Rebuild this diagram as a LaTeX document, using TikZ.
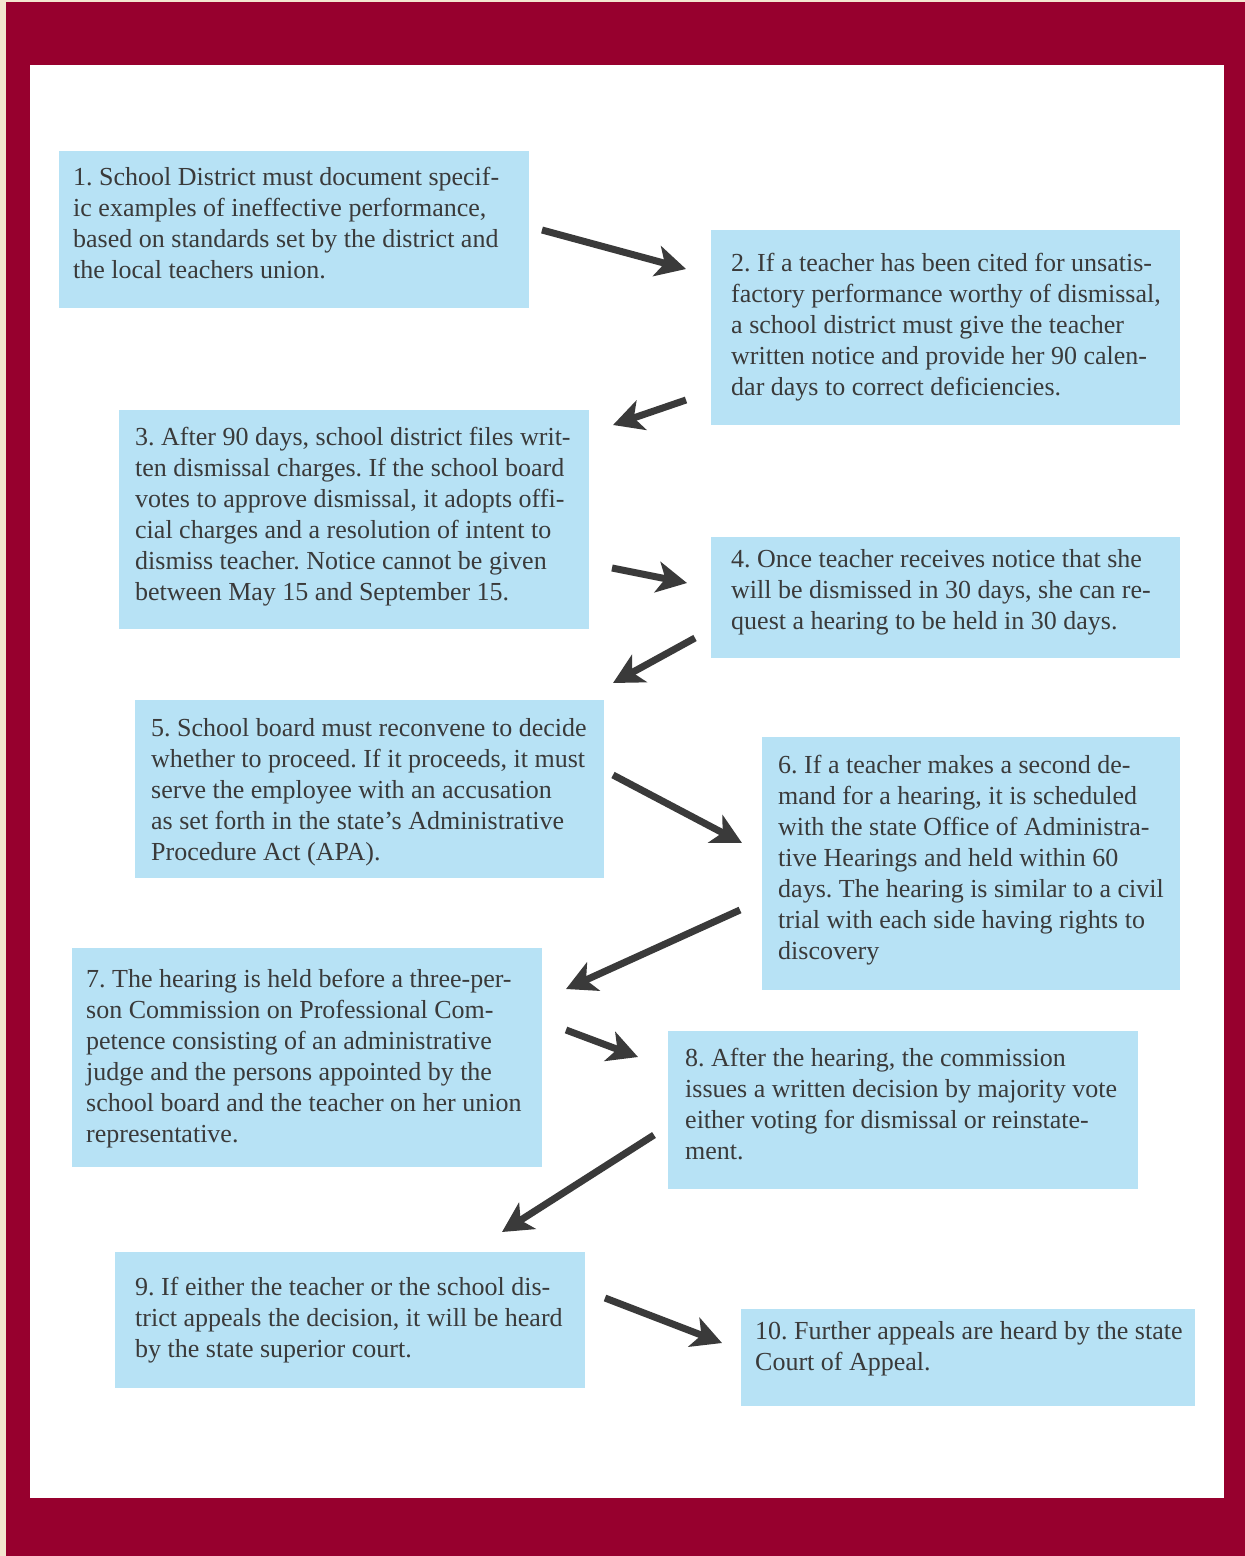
\documentclass[tikz,border=0pt]{standalone}
\usepackage{fontspec}
\setmainfont{Liberation Serif}
\usetikzlibrary{arrows.meta,calc}
\definecolor{maroon}{HTML}{97002E}
\definecolor{cream}{HTML}{F3E6CF}
\definecolor{boxblue}{HTML}{B7E2F5}
\definecolor{txtgrey}{HTML}{3A3A3A}
\definecolor{arrgrey}{HTML}{3A3A3A}
\frenchspacing
\begin{document}
\begin{tikzpicture}[x=1pt,y=-1pt,
  stepbox/.style={fill=boxblue,draw=none},
  steptext/.style={anchor=north west,inner sep=0pt,align=left,text=txtgrey,
    font=\fontsize{26}{31}\selectfont\frenchspacing},
  flow/.style={draw=arrgrey,line width=7pt,-{Stealth[length=30pt,width=31pt,inset=8pt]}}]
\useasboundingbox (0,0) rectangle (1245,1556);
\fill[cream] (0,0) rectangle (1245,1556);
\fill[maroon] (6,2) rectangle (1245,1556);
\fill[white] (30,65) rectangle (1224,1498);

% boxes
\fill[stepbox] (59,151) rectangle (529,308);
\fill[stepbox] (711,230) rectangle (1180,425);
\fill[stepbox] (119,410) rectangle (589,629);
\fill[stepbox] (711,537) rectangle (1180,658);
\fill[stepbox] (135,700) rectangle (604,878);
\fill[stepbox] (762,737) rectangle (1180,990);
\fill[stepbox] (72,948) rectangle (542,1167);
\fill[stepbox] (668,1031) rectangle (1138,1189);
\fill[stepbox] (115,1252) rectangle (585,1388);
\fill[stepbox] (741,1309) rectangle (1195,1406);

% texts (north = baseline - 21.7)
\node[steptext] (t1) at (73,163.3) {\strut 1. School District must document specif-\\ic examples of ineffective performance,\\based on standards set by the district and\\the local teachers union.};
\node[steptext] (t2) at (731,249.3) {\strut 2. If a teacher has been cited for unsatis-\\factory performance worthy of dismissal,\\a school district must give the teacher\\written notice and provide her 90 calen-\\dar days to correct deficiencies.};
\node[steptext] (t3) at (135,423.3) {\strut 3. After 90 days, school district files writ-\\ten dismissal charges. If the school board\\votes to approve dismissal, it adopts offi-\\cial charges and a resolution of intent to\\dismiss teacher. Notice cannot be given\\between May 15 and September 15.};
\node[steptext] (t4) at (731,545.3) {\strut 4. Once teacher receives notice that she\\will be dismissed in 30 days, she can re-\\quest a hearing to be held in 30 days.};
\node[steptext] (t5) at (151,714.3) {\strut 5. School board must reconvene to decide\\whether to proceed. If it proceeds, it must\\serve the employee with an accusation\\as set forth in the state’s Administrative\\Procedure Act (APA).};
\node[steptext] (t6) at (778,751.3) {\strut 6. If a teacher makes a second de-\\mand for a hearing, it is scheduled\\with the state Office of Administra-\\tive Hearings and held within 60\\days. The hearing is similar to a civil\\trial with each side having rights to\\discovery};
\node[steptext] (t7) at (86,965.3) {\strut 7. The hearing is held before a three-per-\\son Commission on Professional Com-\\petence consisting of an administrative\\judge and the persons appointed by the\\school board and the teacher on her union\\representative.};
\node[steptext] (t8) at (685,1044.3) {\strut 8. After the hearing, the commission\\issues a written decision by majority vote\\either voting for dismissal or reinstate-\\ment.};
\node[steptext] (t9) at (135,1273.3) {\strut 9. If either the teacher or the school dis-\\trict appeals the decision, it will be heard\\by the state superior court.};
\node[steptext] (t10) at (755,1317.3) {\strut 10. Further appeals are heard by the state\\Court of Appeal.};

% arrow end points
\coordinate (a1s) at (542,230);  \coordinate (a1e) at (686,269);
\coordinate (a2s) at (686,400);  \coordinate (a2e) at (613,425);
\coordinate (a3s) at (612,568);  \coordinate (a3e) at (687,583);
\coordinate (a4s) at (695,638);  \coordinate (a4e) at (613,683);
\coordinate (a5s) at (613,775);  \coordinate (a5e) at (742,843);
\coordinate (a6s) at (740,910);  \coordinate (a6e) at (566,989);
\coordinate (a7s) at (566,1030); \coordinate (a7e) at (638,1057);
\coordinate (a8s) at (654,1135); \coordinate (a8e) at (502,1232);
\coordinate (a9s) at (605,1298); \coordinate (a9e) at (722,1343);

\draw[flow] (a1s) -- (a1e);
\draw[flow] (a2s) -- (a2e);
\draw[flow] (a3s) -- (a3e);
\draw[flow] (a4s) -- (a4e);
\draw[flow] (a5s) -- (a5e);
\draw[flow] (a6s) -- (a6e);
\draw[flow] (a7s) -- (a7e);
\draw[flow] (a8s) -- (a8e);
\draw[flow] (a9s) -- (a9e);
\end{tikzpicture}
\end{document}
